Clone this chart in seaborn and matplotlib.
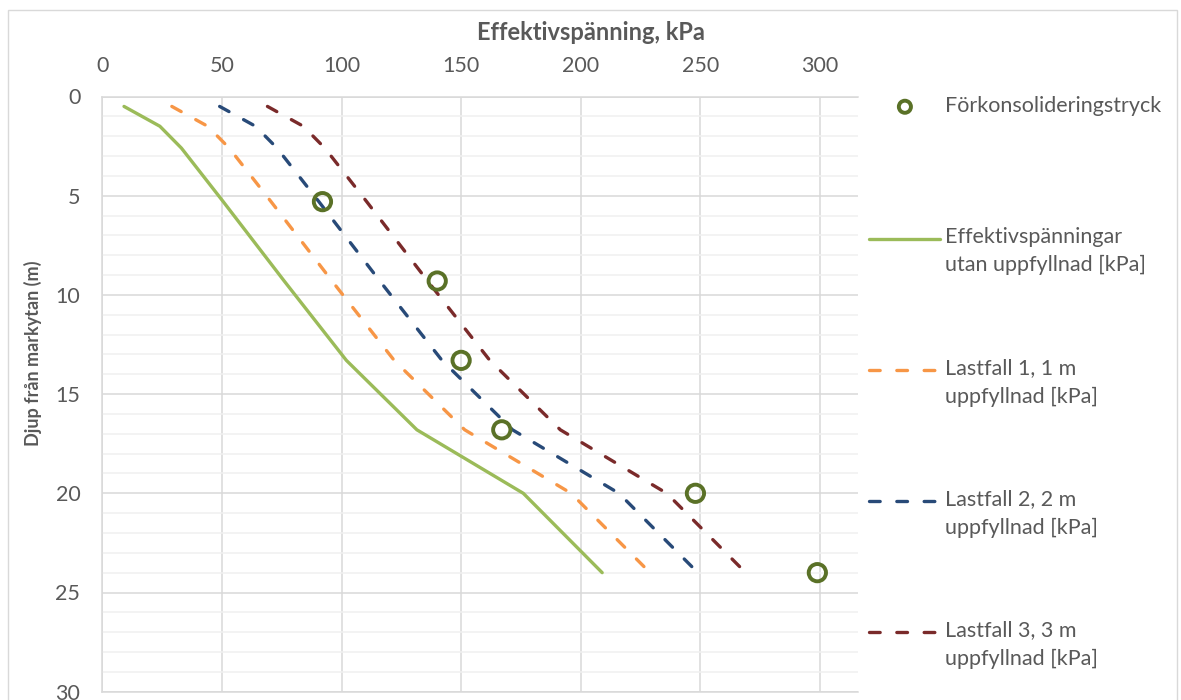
import numpy as np
import pandas as pd
import matplotlib
matplotlib.use("Agg")
import matplotlib.pyplot as plt
from matplotlib.legend_handler import HandlerLine2D, HandlerPathCollection
from matplotlib.patches import Rectangle
from matplotlib.ticker import MultipleLocator
import seaborn as sns

# Depth below ground surface (m)
depth = [0.5, 1.5, 2.6, 5.3, 9.3, 13.3, 16.8, 20.0, 24.0]

# Effective stress profiles (kPa)
eff_utan = [9, 24, 33, 50.5, 76, 102, 131.5, 176, 209]
eff_lf1 = [29, 44, 53, 70.5, 96, 122, 151.5, 196, 229]
eff_lf2 = [49, 64, 73, 90.5, 116, 142, 171.5, 216, 249]
eff_lf3 = [69, 84, 93, 110.5, 136, 162, 191.5, 236, 269]

# Preconsolidation pressure measurements
pc_depth = [5.3, 9.3, 13.3, 16.8, 20.0, 24.0]
pc_value = [92, 140, 150, 167, 248, 299]

labels = [
    "Förkonsolideringstryck",
    "Effektivspänningar\nutan uppfyllnad [kPa]",
    "Lastfall 1, 1 m\nuppfyllnad [kPa]",
    "Lastfall 2, 2 m\nuppfyllnad [kPa]",
    "Lastfall 3, 3 m\nuppfyllnad [kPa]",
]

sns.set_theme(style="white")
plt.rcParams["font.family"] = ["Lato", "DejaVu Sans"]
TXT = "#595959"
GRID = "#D9D9D9"
MINOR = "#F0F0F0"
FS = 15.5

fig = plt.figure(figsize=(11.81, 7.0), dpi=100)
W, H = 1181, 700
left, right, top, bottom = 102.5, 858, 96.5, 691.7
ax = fig.add_axes([left / W, 1 - bottom / H, (right - left) / W, (bottom - top) / H])

# Chart-area border
fig.patches.append(Rectangle((8 / W, -0.02), (1177 - 8) / W, (H - 10) / H + 0.02,
                             transform=fig.transFigure, fill=False,
                             edgecolor=GRID, linewidth=1.0, zorder=0))

dash = (0, (3.2, 5.0))
lw = 2.4
sns.lineplot(x=eff_utan, y=depth, sort=False, estimator=None, ax=ax,
             color="#9BBB59", linewidth=lw, label=labels[1], zorder=3)
sns.lineplot(x=eff_lf1, y=depth, sort=False, estimator=None, ax=ax,
             color="#F79646", linewidth=lw, linestyle=dash,
             dash_capstyle="round", label=labels[2], zorder=3)
sns.lineplot(x=eff_lf2, y=depth, sort=False, estimator=None, ax=ax,
             color="#284A78", linewidth=lw, linestyle=dash,
             dash_capstyle="round", label=labels[3], zorder=3)
sns.lineplot(x=eff_lf3, y=depth, sort=False, estimator=None, ax=ax,
             color="#7A2A2A", linewidth=lw, linestyle=dash,
             dash_capstyle="round", label=labels[4], zorder=3)
sns.scatterplot(x=pc_value, y=pc_depth, ax=ax, s=155, marker="o",
                facecolors="none", edgecolors="#5A7127", linewidths=2.8,
                label=labels[0], zorder=4)

ax.set_xlim(0, 316)
ax.set_ylim(30, 0)
ax.xaxis.set_major_locator(MultipleLocator(50))
ax.yaxis.set_major_locator(MultipleLocator(5))
ax.yaxis.set_minor_locator(MultipleLocator(1))
ax.xaxis.tick_top()
ax.tick_params(axis="both", which="both", length=0, labelsize=FS, colors=TXT)
ax.tick_params(axis="x", pad=15)
ax.tick_params(axis="y", pad=16)
ax.grid(which="major", color=GRID, linewidth=1.1, zorder=1)
ax.grid(which="minor", axis="y", color=MINOR, linewidth=1.1, zorder=0)
ax.set_axisbelow(True)
for side in ["left", "top", "bottom"]:
    ax.spines[side].set_color(GRID)
    ax.spines[side].set_linewidth(1.1)
ax.spines["right"].set_visible(False)

ax.set_xlabel("")
ax.set_ylabel("Djup från markytan (m)", fontsize=13, fontweight="bold", color=TXT)
ax.yaxis.set_label_coords(-0.080, 0.568)
fig.text(591 / W, 1 - 32 / H, "Effektivspänning, kPa", ha="center", va="center",
         fontsize=17, fontweight="bold", color=TXT)


class FirstLineHandler(HandlerLine2D):
    """Places a line handle level with the first line of its label."""

    def __init__(self, dy=0.0, **kw):
        super().__init__(**kw)
        self.dy = dy

    def create_artists(self, legend, orig_handle, xdescent, ydescent, width,
                       height, fontsize, trans):
        arts = super().create_artists(legend, orig_handle, xdescent, ydescent,
                                      width, height, fontsize, trans)
        for a in arts:
            a.set_ydata(np.asarray(a.get_ydata(), dtype=float) + self.dy)
        return arts


class FirstLineMarkerHandler(HandlerPathCollection):
    """Same as above, for scatter handles."""

    def __init__(self, dy=0.0, **kw):
        super().__init__(**kw)
        self.dy = dy

    def create_artists(self, legend, orig_handle, xdescent, ydescent, width,
                       height, fontsize, trans):
        arts = super().create_artists(legend, orig_handle, xdescent, ydescent,
                                      width, height, fontsize, trans)
        for a in arts:
            off = np.asarray(a.get_offsets(), dtype=float).copy()
            off[:, 1] += self.dy
            a.set_offsets(off)
        return arts


handles, labs = ax.get_legend_handles_labels()
order = [labs.index(l) for l in labels]
handles = [handles[i] for i in order]
ax.get_legend().remove()

# every legend entry gets a two-line slot
slot_labels = [l if "\n" in l else l + "\n" for l in labels]
hmap = {h: FirstLineHandler(dy=9.5) for h in handles[1:]}
hmap[handles[0]] = FirstLineMarkerHandler(dy=11.5, numpoints=1)
leg = fig.legend(handles, slot_labels, loc="upper left",
                 bbox_to_anchor=(850 / W, 1 - 77 / H), frameon=False,
                 fontsize=FS, labelcolor=TXT, handlelength=3.3,
                 handletextpad=0.2, labelspacing=3.85, markerscale=0.7,
                 scatterpoints=1, handler_map=hmap)
for t in leg.get_texts():
    t.set_linespacing(1.5)

fig.savefig("out.png", dpi=100)
